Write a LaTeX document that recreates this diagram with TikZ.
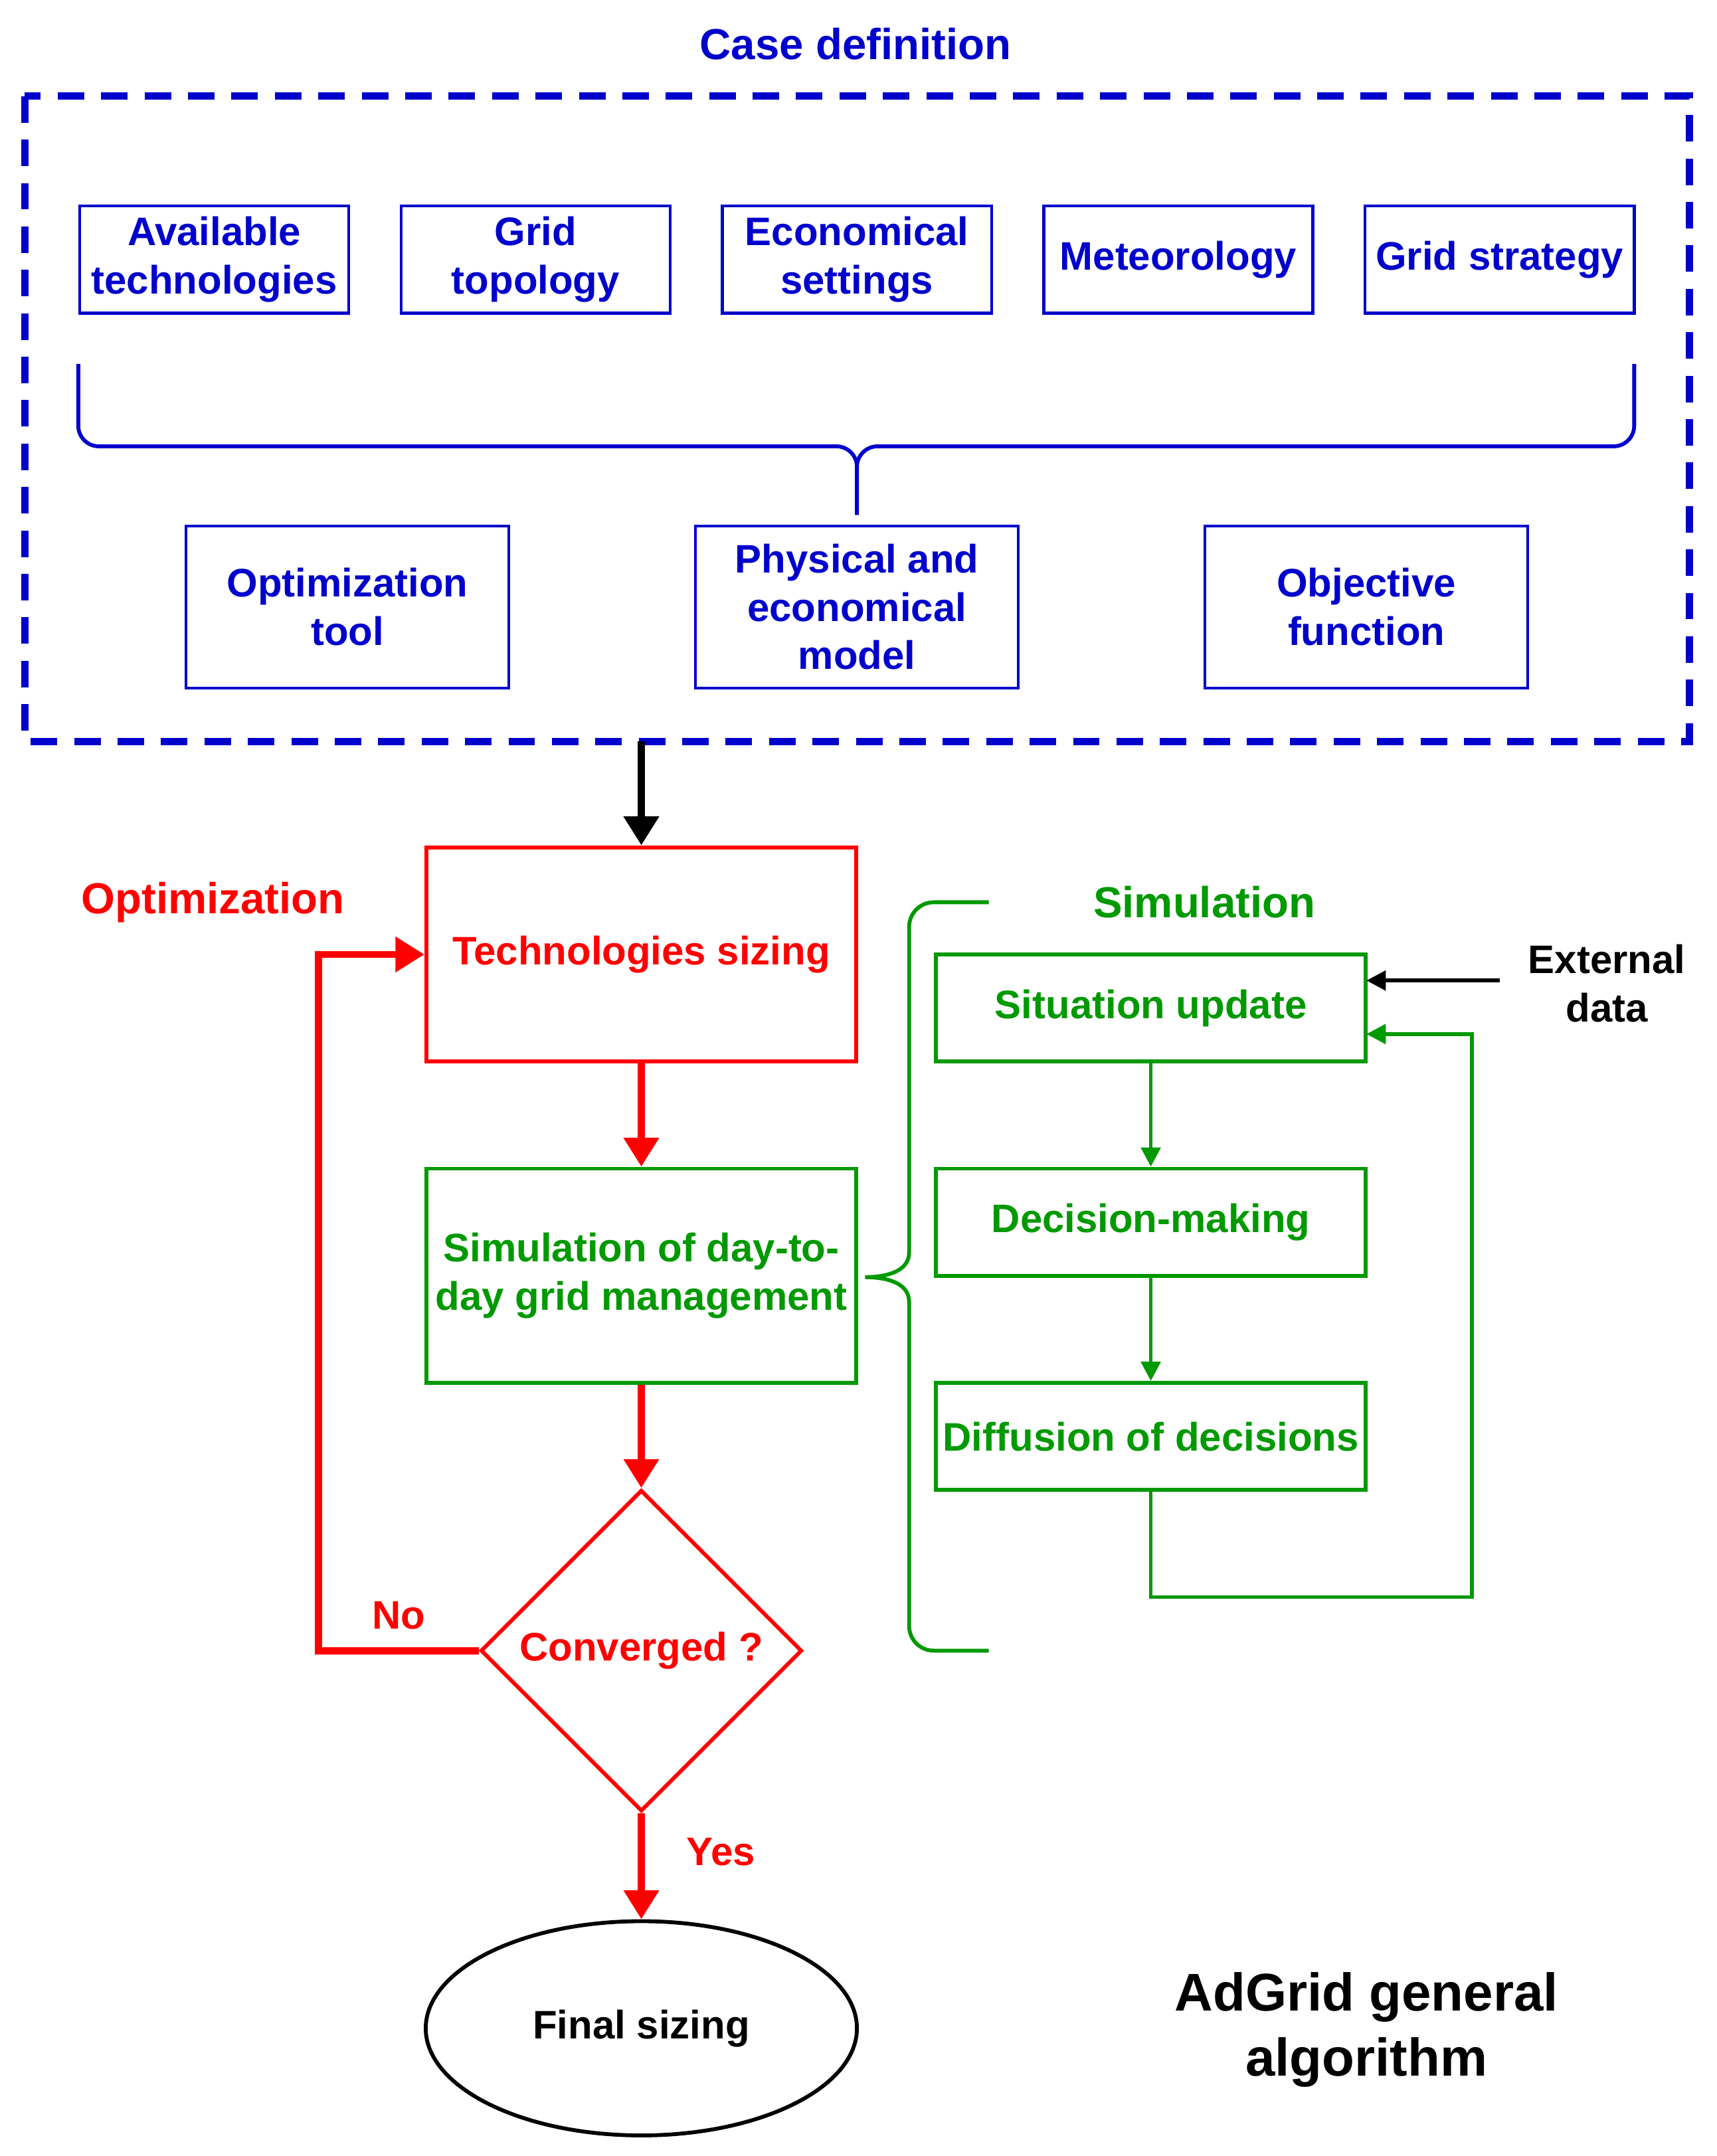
\documentclass[tikz,border=0pt]{standalone}
\usepackage{fontspec}
\setmainfont{Liberation Sans}
\usetikzlibrary{shapes.geometric,arrows.meta}
\definecolor{cblue}{RGB}{0,0,204}
\definecolor{cred}{RGB}{255,0,0}
\definecolor{cgreen}{RGB}{0,153,0}
\begin{document}
\begin{tikzpicture}[x=0.02cm,y=-0.02cm,font=\fontsize{16.5}{20}\selectfont\bfseries,
  bluebox/.style={draw=cblue,text=cblue,line width=1.2pt,align=center,inner sep=1pt},
  redbox/.style={draw=cred,text=cred,line width=1.6pt,align=center,inner sep=1pt},
  greenbox/.style={draw=cgreen,text=cgreen,line width=1.6pt,align=center,inner sep=1pt},
  redarrow/.style={draw=cred,line width=3pt,-{Triangle[length=12pt,width=14pt]}},
  greenarrow/.style={draw=cgreen,line width=1.6pt,-{Triangle[length=8pt,width=8pt]}}]
\useasboundingbox (0,0) rectangle (1250,1570);
% case definition
\node[text=cblue,font=\fontsize{18}{22}\selectfont\bfseries] (casetitle) at (623,32) {Case definition};
\draw[cblue,line width=3pt,dash pattern=on 11pt off 7pt] (18,70) rectangle (1230,540);
\foreach \x/\name/\txt in {156/avail/Available\\technologies,390/topo/Grid\\topology,624/eco/Economical\\settings,858/meteo/Meteorology,1092/strat/Grid strategy}
  \node[bluebox,minimum width=196*0.02cm,minimum height=78*0.02cm] (\name) at (\x,189) {\txt};
\draw[cblue,line width=1.6pt] (57,265) -- (57,310) to[out=-90,in=180] (72,325) -- (609,325)
  to[out=0,in=90] (624,340) -- (624,375);
\draw[cblue,line width=1.6pt] (1190,265) -- (1190,310) to[out=-90,in=0] (1175,325) -- (639,325)
  to[out=180,in=90] (624,340);
\foreach \x/\name/\txt in {253/opttool/Optimization\\tool,624/model/Physical and\\economical\\model,995/objfun/Objective\\function}
  \node[bluebox,minimum width=235*0.02cm,minimum height=118*0.02cm] (\name) at (\x,442) {\txt};
\coordinate (casebottom) at (467,540);
% optimization
\node[text=cred,font=\fontsize{18}{22}\selectfont\bfseries] (opttitle) at (155,657) {Optimization};
\node[redbox,minimum width=313*0.02cm,minimum height=156*0.02cm] (sizing) at (467,695) {Technologies sizing};
\node[greenbox,minimum width=313*0.02cm,minimum height=156*0.02cm] (daytoday) at (467,929) {Simulation of day-to-\\day grid management};
\node[diamond,redbox,minimum width=234*0.02cm,minimum height=234*0.02cm,aspect=1] (conv) at (467,1202) {Converged ?};
\node[ellipse,draw,line width=1.6pt,minimum width=314*0.02cm,minimum height=156*0.02cm] (final) at (467,1477) {Final sizing};
\draw[line width=3pt,-{Triangle[length=12pt,width=14pt]}] (casebottom) -- (sizing);
\draw[redarrow] (sizing) -- (daytoday);
\draw[redarrow] (daytoday) -- (conv);
\draw[redarrow] (conv) -- node[right=14pt,text=cred,yshift=6pt] {Yes} (final);
\coordinate (noleft) at (232,1202);
\draw[redarrow] (conv.west) -- node[above,pos=0.5,text=cred,yshift=4pt] {No} (noleft) |- (sizing.west);
% simulation
\node[text=cgreen,font=\fontsize{18}{22}\selectfont\bfseries] (simtitle) at (877,657) {Simulation};
\draw[cgreen,line width=1.6pt] (720,657) -- (680,657) to[out=180,in=90] (662,675) -- (662,912)
  to[out=-90,in=0] (630,930) to[out=0,in=90] (662,948) -- (662,1184) to[out=-90,in=180] (680,1202) -- (720,1202);
\node[greenbox,minimum width=313*0.02cm,minimum height=78*0.02cm] (update) at (838,734) {Situation update};
\node[greenbox,minimum width=313*0.02cm,minimum height=78*0.02cm] (decision) at (838,890) {Decision-making};
\node[greenbox,minimum width=313*0.02cm,minimum height=78*0.02cm] (diffusion) at (838,1046) {Diffusion of decisions};
\draw[greenarrow] (update) -- (decision);
\draw[greenarrow] (decision) -- (diffusion);
\coordinate (loopcorner) at (1072,1163);
\draw[greenarrow] (diffusion) |- (loopcorner) |- (995,753);
\node[align=center] (extdata) at (1170,716) {External\\data};
\draw[line width=1.6pt,-{Triangle[length=8pt,width=8pt]}] (1092,714) -- (995,714);
\node[align=center,font=\fontsize{22}{27}\selectfont\bfseries] (adgrid) at (995,1478) {AdGrid general\\algorithm};
\end{tikzpicture}
\end{document}
